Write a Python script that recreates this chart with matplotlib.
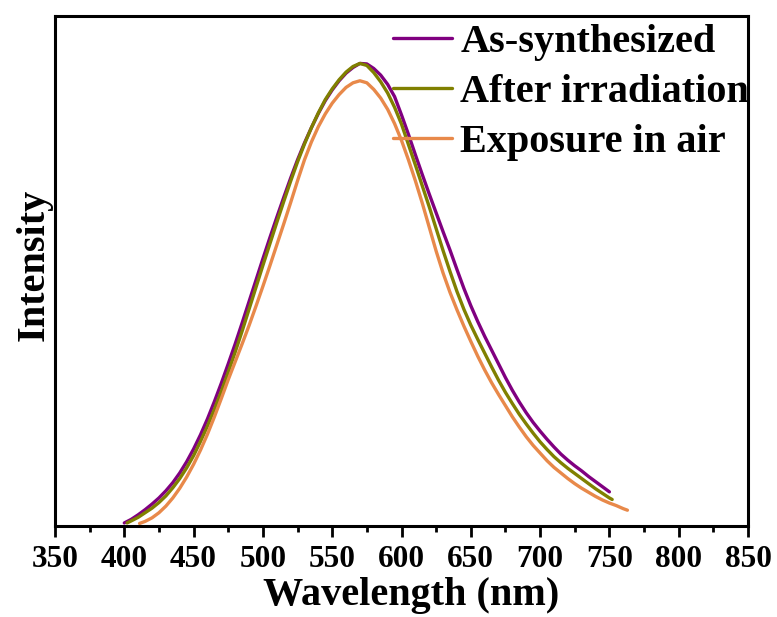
import matplotlib
matplotlib.use("Agg")
import matplotlib.pyplot as plt
from matplotlib.ticker import MultipleLocator, NullLocator

# Data (arbitrary intensity units)
wl_as = [400, 405, 410, 415, 420, 425, 430, 435, 440, 445, 450, 455, 460, 465, 470,
         475, 480, 485, 490, 495, 500, 505, 510, 515, 520, 525, 530, 535, 540, 545,
         550, 555, 560, 565, 570, 575, 580, 585, 590, 595, 600, 605, 610, 615, 620,
         625, 630, 635, 640, 645, 650, 655, 660, 665, 670, 675, 680, 685, 690, 695,
         700, 705, 710, 715, 720, 725, 730, 735, 740, 745, 750]
int_as = [0.006, 0.013, 0.022, 0.032, 0.043, 0.055, 0.069, 0.085, 0.104, 0.126, 0.151,
          0.179, 0.210, 0.244, 0.280, 0.318, 0.357, 0.398, 0.440, 0.482, 0.524, 0.565,
          0.605, 0.644, 0.682, 0.718, 0.751, 0.781, 0.809, 0.834, 0.855, 0.873, 0.888,
          0.899, 0.907, 0.906, 0.897, 0.884, 0.866, 0.842, 0.806, 0.768, 0.728, 0.689,
          0.651, 0.614, 0.577, 0.541, 0.503, 0.466, 0.432, 0.401, 0.372, 0.345, 0.318,
          0.291, 0.266, 0.243, 0.222, 0.203, 0.186, 0.170, 0.155, 0.141, 0.129, 0.118,
          0.108, 0.097, 0.087, 0.077, 0.067]

wl_irr = [402, 405, 410, 415, 420, 425, 430, 435, 440, 445, 450, 455, 460, 465, 470,
          475, 480, 485, 490, 495, 500, 505, 510, 515, 520, 525, 530, 535, 540, 545,
          550, 555, 560, 565, 570, 575, 580, 585, 590, 595, 600, 605, 610, 615, 620,
          625, 630, 635, 640, 645, 650, 655, 660, 665, 670, 675, 680, 685, 690, 695,
          700, 705, 710, 715, 720, 725, 730, 735, 740, 745, 750, 752]
int_irr = [0.006, 0.010, 0.017, 0.026, 0.035, 0.046, 0.059, 0.075, 0.093, 0.114, 0.138,
           0.166, 0.196, 0.229, 0.264, 0.302, 0.341, 0.382, 0.425, 0.468, 0.511, 0.553,
           0.595, 0.636, 0.676, 0.714, 0.749, 0.781, 0.810, 0.836, 0.857, 0.875, 0.890,
           0.901, 0.907, 0.903, 0.889, 0.871, 0.849, 0.821, 0.788, 0.748, 0.708, 0.667,
           0.626, 0.583, 0.540, 0.499, 0.460, 0.425, 0.394, 0.366, 0.339, 0.312, 0.286,
           0.262, 0.240, 0.219, 0.200, 0.182, 0.165, 0.150, 0.136, 0.124, 0.113, 0.103,
           0.093, 0.083, 0.073, 0.064, 0.055, 0.052]

wl_air = [411, 415, 420, 425, 430, 435, 440, 445, 450, 455, 460, 465, 470, 475, 480,
          485, 490, 495, 500, 505, 510, 515, 520, 525, 530, 535, 540, 545, 550, 555,
          560, 565, 570, 575, 580, 585, 590, 595, 600, 605, 610, 615, 620, 625, 630,
          635, 640, 645, 650, 655, 660, 665, 670, 675, 680, 685, 690, 695, 700, 705,
          710, 715, 720, 725, 730, 735, 740, 745, 750, 755, 760, 763]
int_air = [0.005, 0.009, 0.016, 0.026, 0.039, 0.055, 0.074, 0.096, 0.121, 0.149, 0.180,
           0.214, 0.250, 0.287, 0.322, 0.357, 0.393, 0.431, 0.470, 0.510, 0.551, 0.592,
           0.634, 0.677, 0.718, 0.753, 0.783, 0.808, 0.829, 0.846, 0.860, 0.869, 0.873,
           0.869, 0.856, 0.839, 0.817, 0.789, 0.756, 0.718, 0.677, 0.633, 0.586, 0.539,
           0.496, 0.458, 0.424, 0.392, 0.362, 0.333, 0.306, 0.281, 0.258, 0.236, 0.214,
           0.194, 0.175, 0.158, 0.143, 0.128, 0.115, 0.104, 0.093, 0.083, 0.074, 0.066,
           0.058, 0.051, 0.045, 0.040, 0.034, 0.031]

labels = ["As-synthesized", "After irradiation", "Exposure in air"]
colors = ["#800080", "#808000", "#E8894A"]
x_ticks = [350, 400, 450, 500, 550, 600, 650, 700, 750, 800, 850]

plt.rcParams['font.family'] = ['Liberation Serif', 'DejaVu Serif']
plt.rcParams['font.weight'] = 'bold'

fig = plt.figure(figsize=(7.77, 6.17), dpi=100)
ax = fig.add_axes([55/777, 1 - 526/617, (748 - 55)/777, (526 - 16)/617])

for wl, inten, lab, c in zip([wl_as, wl_irr, wl_air], [int_as, int_irr, int_air], labels, colors):
    ax.plot(wl, inten, color=c, lw=2.4, label=lab, solid_capstyle='round',
            solid_joinstyle='round')

ax.set_xlim(350, 850)
ax.set_ylim(0, 1)
ax.set_xticks(x_ticks)
ax.set_xticklabels([str(t) for t in x_ticks])
ax.xaxis.set_minor_locator(MultipleLocator(25))
ax.yaxis.set_major_locator(NullLocator())
ax.yaxis.set_minor_locator(NullLocator())
ax.tick_params(axis='x', which='major', direction='out', length=8, width=2,
               labelsize=22.5, pad=6)
ax.tick_params(axis='x', which='minor', direction='out', length=4.5, width=2)
for lbl in ax.get_xticklabels():
    lbl.set_fontweight('bold')
for sp in ax.spines.values():
    sp.set_linewidth(2.2)

ax.set_xlabel("Wavelength (nm)", fontsize=29, fontweight='bold')
ax.xaxis.set_label_coords(0.514, -0.1)
ax.set_ylabel("Intensity", fontsize=29, fontweight='bold', va='center', ha='center')
ax.yaxis.set_label_coords(-0.030, 0.512)

leg = fig.legend(loc='upper left', bbox_to_anchor=(393/777, 1 - 24/617),
                 frameon=False, borderpad=0, borderaxespad=0,
                 prop={'weight': 'bold', 'size': 29},
                 handlelength=1.47, handletextpad=0.2, labelspacing=0.32)
for line in leg.get_lines():
    line.set_linewidth(2.4)

fig.savefig("out.png", dpi=100)
